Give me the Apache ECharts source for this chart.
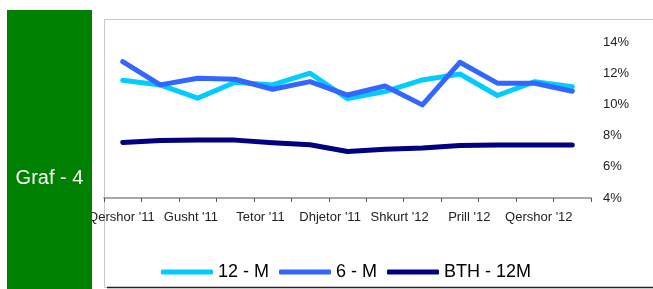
<!DOCTYPE html>
<html>
<head>
<meta charset="utf-8">
<script src="https://cdn.jsdelivr.net/npm/echarts@6/dist/echarts.min.js"></script>
<style>
    html, body { margin: 0; padding: 0; background: #fff; }
    #main { width: 653px; height: 289px; }
</style>
</head>
<body>
<div id="main"></div>
<script>
// months shown on the chart (monthly points)
let months = ["Qershor '11", "Korrik '11", "Gusht '11", "Shtator '11", "Tetor '11", "Nëntor '11",
    "Dhjetor '11", "Janar '12", "Shkurt '12", "Mars '12", "Prill '12", "Maj '12", "Qershor '12"];
let tick_labels = ["Qershor '11", "Gusht '11", "Tetor '11", "Dhjetor '11", "Shkurt '12", "Prill '12", "Qershor '12"];

let m12 = [11.55, 11.25, 10.4, 11.42, 11.25, 12.0, 10.37, 10.82, 11.57, 11.95, 10.57, 11.46, 11.14];
let m6 = [12.74, 11.25, 11.68, 11.61, 10.97, 11.46, 10.6, 11.18, 9.97, 12.7, 11.36, 11.36, 10.84];
let bth_12m = [7.56, 7.69, 7.71, 7.71, 7.54, 7.41, 6.98, 7.13, 7.2, 7.37, 7.39, 7.39, 7.39];

let y_min = 4;
let y_max = 14;
let y_step = 2;

//label axis: two slots per label, the second one empty
let label_slots = [];
for (let i = 0; i < tick_labels.length; i++) {
    label_slots.push(tick_labels[i]);
    label_slots.push('');
}

var chartDom = document.getElementById('main');
var myChart = echarts.init(chartDom);
var font = 'Liberation Sans, Arial, sans-serif';

function make_line(name, data, color) {
    return {
        name: name,
        type: 'line',
        data: data,
        xAxisIndex: 0,
        symbol: 'none',
        smooth: false,
        animation: false,
        itemStyle: { color: color },
        lineStyle: { color: color, width: 5, cap: 'round', join: 'round' }
    };
}

var option = {
    animation: false,
    grid: { left: 104, right: 62, top: 42, bottom: 91 },
    graphic: {
        elements: [
            {
                type: 'rect',
                shape: { x: 104.5, y: 19.5, width: 560, height: 268 },
                style: { fill: 'none', stroke: '#c8c8c8', lineWidth: 1 },
                z: -1
            },
            {
                type: 'line',
                shape: { x1: 107, y1: 287.5, x2: 653, y2: 287.5 },
                style: { stroke: '#222', lineWidth: 1.5 },
                z: 10
            },
            {
                type: 'rect',
                shape: { x: 7, y: 10, width: 85, height: 279 },
                style: { fill: '#008000' },
                z: 100
            },
            {
                type: 'text',
                x: 49.5,
                y: 178,
                style: {
                    text: 'Graf - 4',
                    fill: '#fff',
                    font: '20px ' + font,
                    align: 'center',
                    verticalAlign: 'middle'
                },
                z: 101
            }
        ]
    },
    legend: {
        left: 156,
        top: 258,
        icon: 'roundRect',
        itemWidth: 52,
        itemHeight: 5,
        itemGap: 10,
        textStyle: { color: '#000', fontSize: 18, fontFamily: font },
        data: ['12 - M', '6 - M', 'BTH - 12M']
    },
    xAxis: [
        {
            type: 'category',
            data: months,
            boundaryGap: true,
            axisLine: { lineStyle: { color: '#8a8a8a', width: 1.5 } },
            axisTick: { show: true, interval: 0, length: 4, lineStyle: { color: '#555' } },
            axisLabel: { show: false },
            splitLine: { show: false }
        },
        {
            type: 'category',
            data: label_slots,
            position: 'bottom',
            boundaryGap: true,
            axisLine: { show: false },
            axisTick: { show: false },
            axisLabel: {
                interval: 0,
                margin: 13,
                color: '#222',
                fontSize: 13,
                fontFamily: font
            },
            splitLine: { show: false }
        }
    ],
    yAxis: {
        type: 'value',
        position: 'right',
        min: y_min,
        max: y_max,
        interval: y_step,
        axisLine: { show: false },
        axisTick: { show: false },
        splitLine: { show: false },
        axisLabel: {
            margin: 12,
            formatter: '{value}%',
            color: '#222',
            fontSize: 13,
            fontFamily: font
        }
    },
    series: [
        make_line('12 - M', m12, '#00ccff'),
        make_line('6 - M', m6, '#3366ff'),
        make_line('BTH - 12M', bth_12m, '#000080')
    ]
};

myChart.setOption(option);
</script>
</body>
</html>
